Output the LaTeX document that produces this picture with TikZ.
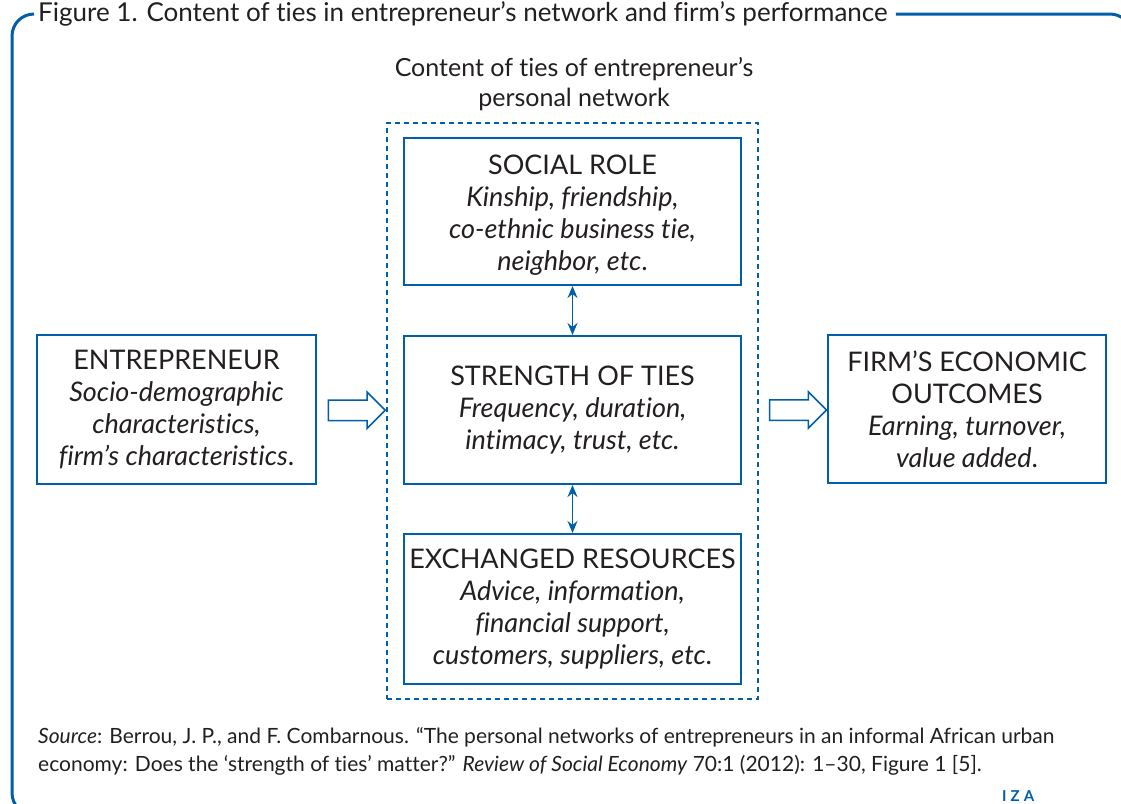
\documentclass[tikz,border=0pt]{standalone}
\usepackage{fontspec}
\setmainfont{Lato}[Ligatures={TeX,NoCommon}]
\usetikzlibrary{positioning,calc,fit,arrows.meta,shapes.arrows}
\definecolor{izablue}{RGB}{0,94,170}
\definecolor{txtc}{RGB}{35,31,32}

\begin{document}
\begin{tikzpicture}[x=1pt, y=-1pt, node distance=49pt and 1.3cm,
    box/.style={draw=izablue, line width=2pt, align=center, inner sep=0pt,
      minimum width=337pt, minimum height=148pt, text=txtc,
      font=\fontsize{27}{32}\selectfont},
    fatarrow/.style={single arrow, draw=izablue, fill=white, line width=1.5pt,
      inner sep=9.5pt, minimum width=35pt, minimum height=57pt,
      single arrow head extend=8pt},
    tiearrow/.style={{Stealth[length=12pt,width=10pt]}-{Stealth[length=12pt,width=10pt]},
      izablue, line width=1.5pt}]
    \useasboundingbox (0,0) rectangle (1121,803);
    \clip (0,0) rectangle (1121,803);
    % title and frame
    \node[anchor=west, inner sep=0pt, text=txtc, font=\fontsize{26}{28}\selectfont] (title) at (38,14)
      {Figure 1. Content of ties in entrepreneur’s network and firm’s performance};
    \draw[izablue, line width=3pt, rounded corners=22pt] ([xshift=8pt]title.east) -- (1132,14)
      -- (1132,815) -- (12,815) -- (12,14) -- ([xshift=-4pt]title.west);
    % network boxes
    \node[box] (str) at (572.5,410) {STRENGTH OF TIES\\\textit{Frequency, duration,}\\\textit{intimacy, trust, etc.}};
    \node[box, minimum height=147pt, above=49pt of str] (role) {\rule{0pt}{26pt}SOCIAL ROLE\\\textit{Kinship, friendship,}\\\textit{co-ethnic business tie,}\\\textit{neighbor, etc}.};
    \node[box, minimum height=150pt, below=48pt of str] (res) {EXCHANGED RESOURCES\\\textit{Advice, information,}\\\textit{financial support,}\\\textit{customers, suppliers, etc}.};
    \node[draw=izablue, line width=1.5pt, dash pattern=on 5pt off 4pt, inner xsep=16pt, inner ysep=14pt,
      fit=(role)(res)] (net) {};
    \node[align=center, text=txtc, font=\fontsize{25}{30}\selectfont] (netlabel) at (574,84)
      {Content of ties of entrepreneur’s\\personal network};
    % sides
    \node[box, minimum width=279pt, minimum height=149pt] (ent) at (176.5,409.5) {ENTREPRENEUR\\\textit{Socio-demographic}\\\textit{characteristics,}\\\textit{firm’s characteristics}.};
    \node[box, minimum width=278pt] (firm) at (967,409) {FIRM’S ECONOMIC\\OUTCOMES\\\textit{Earning, turnover,}\\\textit{value added}.};
    % arrows
    \draw[tiearrow] (role) -- (str);
    \draw[tiearrow] (str) -- (res);
    \node[fatarrow] (inarrow) at ($(ent.east)!0.5!(net.west)$) {};
    \node[fatarrow] (outarrow) at ($(net.east)!0.5!(firm.west)$) {};
    % source
    \node[anchor=base west, align=left, inner sep=0pt, text=txtc, font=\fontsize{21}{28}\selectfont] (src) at (38,771)
      {\textit{Source}: Berrou, J. P., and F. Combarnous. “The personal networks of entrepreneurs in an informal African urban\\
       economy: Does the ‘strength of ties’ matter?” \textit{Review of Social Economy} 70:1 (2012): 1–30, Figure 1 [5].};
    \node[anchor=north west, inner sep=0pt, text=izablue, font=\bfseries\fontsize{15}{15}\selectfont] (iza) at (1002,790) {I\hspace{4pt}Z\hspace{4pt}A};
\end{tikzpicture}
\end{document}
